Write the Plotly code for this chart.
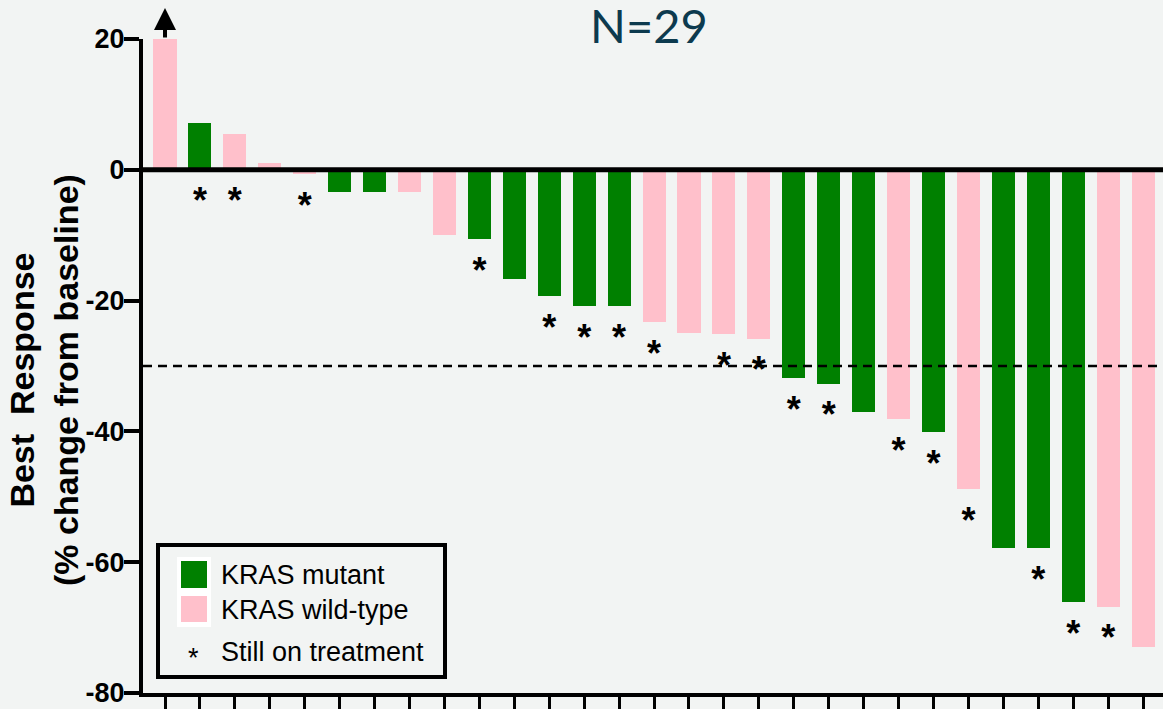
import plotly.graph_objects as go

# Best percent change from baseline, one entry per patient (sorted waterfall order)
response = [20, 7.1, 5.5, 1.0, -0.7, -3.4, -3.4, -3.4, -9.9, -10.6,
            -16.7, -19.3, -20.9, -20.9, -23.3, -24.9, -25.1, -25.8, -31.9, -32.7,
            -37.0, -38.1, -40.1, -48.8, -57.9, -57.9, -66.1, -66.8, -73.0]
kras = ["WT", "MUT", "WT", "WT", "WT", "MUT", "MUT", "WT", "WT", "MUT",
        "MUT", "MUT", "MUT", "MUT", "WT", "WT", "WT", "WT", "MUT", "MUT",
        "MUT", "WT", "MUT", "WT", "MUT", "MUT", "MUT", "WT", "WT"]
on_treatment = [0, 1, 1, 0, 1, 0, 0, 0, 0, 1,
                0, 1, 1, 1, 1, 0, 1, 1, 1, 1,
                0, 1, 1, 1, 0, 1, 1, 1, 0]
y_ticks = [20, 0, -20, -40, -60, -80]
y_tick_labels = ["20", "0", "-20", "-40", "-60", "-80"]
threshold = -30

GREEN = "#008000"
PINK = "#ffc0cb"
BG = "#f2f4f3"
W, H = 1163, 709
ML, MR, MT, MB = 143, 0, 39, 16

patients = list(range(len(response)))
colors = [GREEN if k == "MUT" else PINK for k in kras]

fig = go.Figure()
fig.add_trace(go.Bar(
    x=patients, y=response, width=0.66,
    marker=dict(color=colors, line=dict(width=0)),
    showlegend=False, hoverinfo="skip",
))

# asterisks under patients still on treatment
star_x = [p for p, t in zip(patients, on_treatment) if t]
star_y = [min(response[p], 0) - 5.3 for p in star_x]
fig.add_trace(go.Scatter(
    x=star_x, y=star_y, mode="text", text=["*"] * len(star_x),
    textposition="middle center",
    textfont=dict(family="Liberation Sans, Arial", size=36, color="black", weight="bold"),
    showlegend=False, hoverinfo="skip", cliponaxis=False,
))

def px_x(px):
    return (px - ML) / (W - ML - MR)

def px_y(py):
    return (H - MB - py) / (H - MT - MB)

shapes = [
    dict(type="line", xref="paper", yref="y", x0=0, x1=1, y0=0, y1=0,
         line=dict(color="black", width=5), layer="above"),
    dict(type="line", xref="paper", yref="y", x0=0, x1=1, y0=threshold, y1=threshold,
         line=dict(color="black", width=2.5, dash="9px,6px"), layer="above"),
    # legend frame
    dict(type="rect", xref="paper", yref="paper",
         x0=px_x(158), x1=px_x(445), y0=px_y(677), y1=px_y(545),
         line=dict(color="black", width=4), fillcolor=BG, layer="above"),
    dict(type="rect", xref="paper", yref="paper",
         x0=px_x(177), x1=px_x(211), y0=px_y(627), y1=px_y(557),
         line=dict(width=0), fillcolor="white", layer="above"),
    dict(type="rect", xref="paper", yref="paper",
         x0=px_x(181), x1=px_x(207), y0=px_y(588), y1=px_y(561),
         line=dict(width=0), fillcolor=GREEN, layer="above"),
    dict(type="rect", xref="paper", yref="paper",
         x0=px_x(181), x1=px_x(207), y0=px_y(622), y1=px_y(596),
         line=dict(width=0), fillcolor=PINK, layer="above"),
]

legend_font = dict(family="Liberation Sans, Arial", size=27, color="black")
annotations = [
    dict(xref="paper", yref="paper", x=px_x(219), y=px_y(575), text="KRAS mutant",
         showarrow=False, xanchor="left", yanchor="middle", font=legend_font),
    dict(xref="paper", yref="paper", x=px_x(219), y=px_y(610), text="KRAS wild-type",
         showarrow=False, xanchor="left", yanchor="middle", font=legend_font),
    dict(xref="paper", yref="paper", x=px_x(219), y=px_y(652), text="Still on treatment",
         showarrow=False, xanchor="left", yanchor="middle", font=legend_font),
    dict(xref="paper", yref="paper", x=px_x(193), y=px_y(658), text="*",
         showarrow=False, xanchor="center", yanchor="middle", font=legend_font),
    # title
    dict(xref="paper", yref="paper", x=px_x(649), y=px_y(25), text="N=29",
         showarrow=False, xanchor="center", yanchor="middle",
         font=dict(family="Lato", size=47, color="#0d3a4e")),
    # y-axis title
    dict(xref="paper", yref="paper", x=px_x(44), y=px_y(380),
         text="Best  Response<br>(% change from baseline)", textangle=-90,
         showarrow=False, xanchor="center", yanchor="middle",
         font=dict(family="Liberation Sans, Arial", size=34, color="black", weight="bold")),
    # arrow: first value exceeds the axis maximum
    dict(xref="x", yref="paper", x=patients[0], y=px_y(8), ax=0, ay=31,
         text="", showarrow=True, arrowhead=2, arrowsize=1.1, arrowwidth=4, arrowcolor="black"),
]

fig.update_layout(
    width=W, height=H,
    margin=dict(l=ML, r=MR, t=MT, b=MB, pad=0),
    paper_bgcolor=BG, plot_bgcolor=BG,
    shapes=shapes, annotations=annotations,
    bargap=0,
    xaxis=dict(range=[-0.63, 28.57], showgrid=False, zeroline=False,
               showline=True, linecolor="black", linewidth=4,
               tickvals=patients, ticks="outside", ticklen=16, tickwidth=3,
               tickcolor="black", showticklabels=False, fixedrange=True),
    yaxis=dict(range=[-80, 20], showgrid=False, zeroline=False,
               showline=True, linecolor="black", linewidth=4,
               tickvals=y_ticks, ticktext=y_tick_labels,
               ticks="outside", ticklen=15, tickwidth=4, tickcolor="black",
               ticklabelstandoff=-6,
               tickfont=dict(family="Liberation Sans, Arial", size=27, color="black", weight="bold"),
               fixedrange=True),
)

fig.write_html("out.html", config={"displayModeBar": False})
